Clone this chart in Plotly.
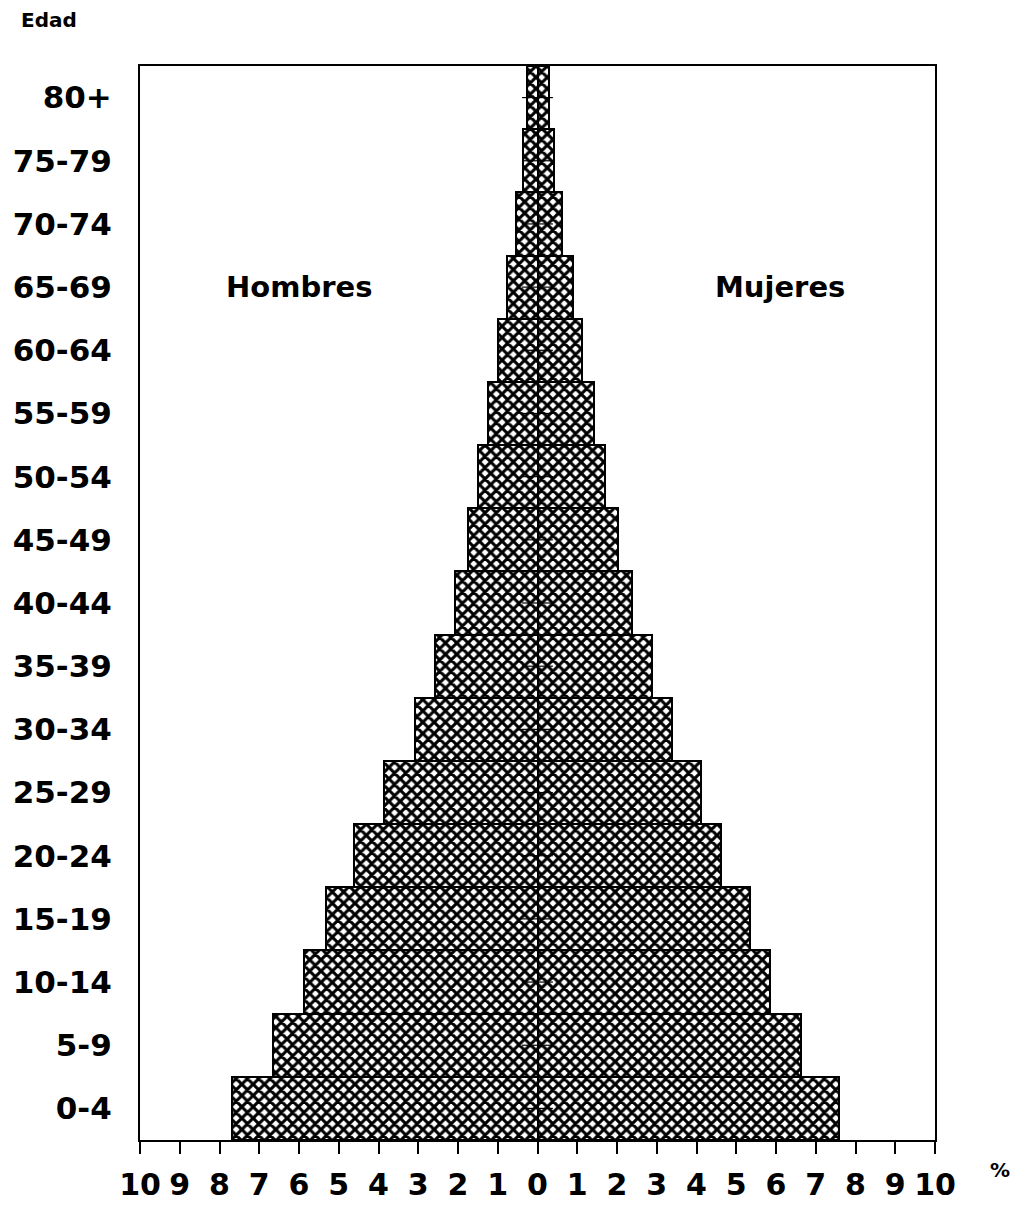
import plotly.graph_objects as go

age_groups = ["0-4", "5-9", "10-14", "15-19", "20-24", "25-29", "30-34", "35-39",
              "40-44", "45-49", "50-54", "55-59", "60-64", "65-69", "70-74", "75-79", "80+"]
hombres = [7.69, 6.65, 5.87, 5.31, 4.61, 3.87, 3.09, 2.57, 2.08, 1.76, 1.49, 1.24,
           1.00, 0.77, 0.54, 0.37, 0.26]
mujeres = [7.58, 6.62, 5.84, 5.34, 4.61, 4.11, 3.39, 2.89, 2.38, 2.02, 1.71, 1.42,
           1.12, 0.89, 0.62, 0.42, 0.29]
tick_vals = list(range(-10, 11))
tick_text = [str(abs(v)) for v in tick_vals]

FONT = "DejaVu Sans"

pattern = dict(shape="x", size=8, solidity=0.62, fgcolor="black", bgcolor="white",
               fillmode="replace")

fig = go.Figure()
fig.add_trace(go.Bar(
    y=age_groups, x=[-v for v in hombres], orientation="h", name="Hombres",
    marker=dict(color="white", line=dict(color="black", width=2), pattern=pattern),
    showlegend=False,
))
fig.add_trace(go.Bar(
    y=age_groups, x=mujeres, orientation="h", name="Mujeres",
    marker=dict(color="white", line=dict(color="black", width=2), pattern=pattern),
    showlegend=False,
))
# small centre ticks at each age group
fig.add_trace(go.Scatter(
    y=age_groups, x=[0] * len(age_groups), mode="markers",
    marker=dict(symbol="line-ew-open", size=22, color="black",
                line=dict(color="black", width=1.2)),
    showlegend=False, hoverinfo="skip",
))

fig.update_layout(
    width=1018, height=1205,
    margin=dict(l=132, r=91, t=58, b=73),
    paper_bgcolor="white", plot_bgcolor="white",
    barmode="overlay", bargap=0,
    font=dict(family=FONT, color="black"),
    annotations=[
        dict(text="Edad", x=-0.1145, y=1.0428, xref="paper", yref="paper", showarrow=False,
             font=dict(size=20, family=FONT, weight="bold"), xanchor="center", yanchor="middle"),
        dict(text="Hombres", x=-6.0, y="65-69", xref="x", yref="y", showarrow=False,
             font=dict(size=29, family=FONT, weight="bold")),
        dict(text="Mujeres", x=6.1, y="65-69", xref="x", yref="y", showarrow=False,
             font=dict(size=29, family=FONT, weight="bold")),
        dict(text="%", x=1.082, y=-0.028, xref="paper", yref="paper", showarrow=False,
             font=dict(size=20, family=FONT, weight="bold"), xanchor="center", yanchor="middle"),
    ],
)

fig.update_xaxes(
    range=[-10, 10], tickvals=tick_vals, ticktext=tick_text,
    showline=True, linecolor="black", linewidth=2, mirror=True,
    ticks="outside", ticklen=12, tickwidth=2, tickcolor="black",
    showgrid=False, zeroline=True, zerolinecolor="black", zerolinewidth=2,
    tickfont=dict(size=30, family=FONT, weight="bold"), ticklabelstandoff=5,
    layer="above traces", automargin=False,
)
fig.update_yaxes(
    range=[-0.5, 16.5], categoryorder="array", categoryarray=age_groups,
    showline=True, linecolor="black", linewidth=2, mirror=True,
    ticks="", showgrid=False, ticklabelstandoff=20,
    tickfont=dict(size=31, family=FONT, weight="bold"), automargin=False,
)

fig.write_html("out.html")
